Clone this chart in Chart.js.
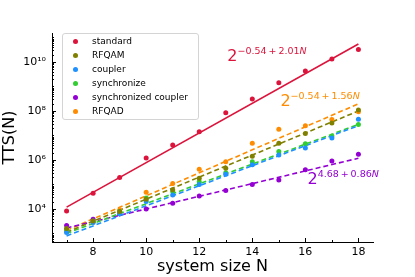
<!DOCTYPE html>
<html>
<head>
<meta charset="utf-8">
<script src="https://cdn.jsdelivr.net/npm/chart.js@4.4.0/dist/chart.umd.min.js"></script>
<style>
    body { margin: 0; background: #fff; }
    #wrap { position: relative; width: 415px; height: 277px; font-family: 'DejaVu Sans', sans-serif; }
    #legend { position: absolute; left: 62px; top: 33px; width: 135px; height: 85px; border: 1px solid #d4d4d4; border-radius: 3px; background: rgba(255,255,255,0.85); font-size: 9px; }
    .item { position: absolute; left: 0; height: 14px; line-height: 14px; width: 135px; }
    .dot { position: absolute; left: 10px; top: 4.5px; width: 5px; height: 5px; border-radius: 50%; }
    .lbl { position: absolute; left: 29px; white-space: nowrap; color: #000; }
    .fit { position: absolute; white-space: nowrap; font-size: 16px; line-height: 16px; }
    .fit span { font-size: 9.5px; position: relative; top: -7px; }
</style>
</head>
<body>
<div id="wrap">
    <canvas id="chart" width="415" height="277"></canvas>
    <div id="legend"></div>
</div>
<script>
// Data
const sizes = [7, 8, 9, 10, 11, 12, 13, 14, 15, 16, 17, 18];
const seriesNames = ['standard', 'RFQAM', 'coupler', 'synchronize', 'synchronized coupler', 'RFQAD'];
const seriesColors = ['#DC143C', '#808000', '#1E90FF', '#32CD32', '#9400D3', '#FF8C00'];

const standard = [8.3e3, 4.4e4, 1.9e5, 1.2e6, 4.1e6, 1.4e7, 8.5e7, 3.1e8, 1.4e9, 4.3e9, 1.3e10, 3.2e10];
const rfqam = [1.6e3, 3.2e3, 7.9e3, 2.5e4, 6.0e4, 1.8e5, 4.6e5, 1.4e6, 4.8e6, 1.2e7, 3.2e7, 1.1e8];
const coupler = [1.1e3, 2.8e3, 6.3e3, 2.0e4, 3.7e4, 1.0e5, 2.6e5, 6.3e5, 1.6e6, 3.1e6, 7.8e6, 4.6e7];
const synchronize = [1.4e3, 3.2e3, 7.9e3, 2.8e4, 5.1e4, 1.3e5, 3.0e5, 8.5e5, 2.2e6, 4.6e6, 9.5e6, 2.8e7];
const syncCoupler = [2.1e3, 3.8e3, 6.3e3, 1.0e4, 1.7e4, 3.4e4, 5.6e4, 1.0e5, 1.5e5, 4.0e5, 9.1e5, 1.7e6];
const rfqad = [1.2e3, 2.9e3, 9.1e3, 4.8e4, 1.1e5, 4.2e5, 8.5e5, 4.8e6, 1.8e7, 2.5e7, 4.5e7, 9.3e7];
const seriesValues = [standard, rfqam, coupler, synchronize, syncCoupler, rfqad];

const fitA = [-0.54, -0.34, 0.12, 0.56, 4.68, -0.54];
const fitB = [2.01, 1.495, 1.359, 1.344, 0.86, 1.56];
const fitLabelSeries = [0, 5, 4];

const xTicks = [8, 10, 12, 14, 16, 18];
const yTickPowers = [4, 6, 8, 10];

const supDigits = '⁰¹²³⁴⁵⁶⁷⁸⁹';
function sup(n) {
    return String(n).split('').map(c => supDigits[+c] || c).join('');
}

const datasets = [];
seriesValues.forEach(function(vals, i) {
    datasets.push({
        label: seriesNames[i],
        data: sizes.map((n, j) => ({ x: n, y: vals[j] })),
        backgroundColor: seriesColors[i],
        borderColor: seriesColors[i],
        pointRadius: 2.5,
        pointBorderWidth: 0,
        showLine: false,
        order: 1
    });
});
seriesValues.forEach(function(vals, i) {
    const n0 = sizes[0], n1 = sizes[sizes.length - 1];
    datasets.push({
        label: seriesNames[i] + ' fit',
        data: [{ x: n0, y: Math.pow(2, fitA[i] + fitB[i] * n0) }, { x: n1, y: Math.pow(2, fitA[i] + fitB[i] * n1) }],
        borderColor: seriesColors[i],
        borderWidth: 1.6,
        borderDash: i === 0 ? [] : [5, 3],
        pointRadius: 0,
        showLine: true,
        fill: false,
        order: 2
    });
});

// matplotlib-like inward ticks
const inwardTicks = {
    id: 'inwardTicks',
    afterDraw(chart) {
        const ctx = chart.ctx;
        const xs = chart.scales.x, ys = chart.scales.y;
        const area = chart.chartArea;
        ctx.save();
        ctx.strokeStyle = '#000';
        ctx.lineWidth = 1;
        ctx.beginPath();
        for (let n = Math.ceil(xs.min); n <= xs.max; n++) {
            const px = Math.round(xs.getPixelForValue(n)) + 0.5;
            const len = xTicks.includes(n) ? 4 : 2;
            ctx.moveTo(px, area.bottom);
            ctx.lineTo(px, area.bottom - len);
        }
        const d0 = Math.floor(Math.log10(ys.min)), d1 = Math.ceil(Math.log10(ys.max));
        for (let d = d0; d <= d1; d++) {
            for (let k = 1; k <= 9; k++) {
                const v = k * Math.pow(10, d);
                if (v < ys.min || v > ys.max) continue;
                const py = Math.round(ys.getPixelForValue(v)) + 0.5;
                const len = (k === 1 && yTickPowers.includes(d)) ? 4 : 2;
                ctx.moveTo(area.left, py);
                ctx.lineTo(area.left + len, py);
            }
        }
        ctx.stroke();
        ctx.restore();
    }
};

Chart.defaults.font.family = "'DejaVu Sans', sans-serif";
Chart.defaults.color = '#000';

const chart = new Chart(document.getElementById('chart'), {
    type: 'scatter',
    data: { datasets: datasets },
    options: {
        responsive: false,
        animation: false,
        layout: { padding: { top: 33, right: 42, left: 0, bottom: 0 } },
        plugins: { legend: { display: false }, tooltip: { enabled: false } },
        scales: {
            x: {
                type: 'linear',
                min: 6.45,
                max: 18.55,
                afterBuildTicks: s => { s.ticks = xTicks.map(v => ({ value: v })); },
                afterFit: s => { s.height = 35; },
                ticks: { font: { size: 11 }, color: '#000', padding: 4 },
                grid: { drawOnChartArea: false, drawTicks: false },
                border: { color: '#000', width: 1 },
                title: { display: true, text: 'system size N', font: { size: 16 }, color: '#000', padding: { top: 0, bottom: 1 } }
            },
            y: {
                type: 'logarithmic',
                min: Math.pow(10, 2.65),
                max: Math.pow(10, 11.18),
                afterBuildTicks: s => { s.ticks = yTickPowers.map(p => ({ value: Math.pow(10, p) })); },
                afterFit: s => { s.width = 52; },
                ticks: {
                    font: { size: 11 }, color: '#000', padding: 6,
                    callback: v => '10' + sup(Math.round(Math.log10(v)))
                },
                grid: { drawOnChartArea: false, drawTicks: false },
                border: { color: '#000', width: 1 },
                title: { display: true, text: 'TTS(N)', font: { size: 16 }, color: '#000', padding: 0 }
            }
        }
    },
    plugins: [inwardTicks]
});

// Legend box in the upper left, like matplotlib's
const legend = document.getElementById('legend');
seriesNames.forEach(function(name, i) {
    const item = document.createElement('div');
    item.className = 'item';
    item.style.top = (i * 14) + 'px';
    item.innerHTML = '<div class="dot" style="background:' + seriesColors[i] + '"></div><div class="lbl">' + name + '</div>';
    legend.appendChild(item);
});

// Fit formulas next to their lines
const labelSpots = [{ n: 13.06, logY: 10.0 }, { n: 15.06, logY: 8.2 }, { n: 16.08, logY: 4.98 }];
function fmt(v) {
    return (v < 0 ? '\u2212' : '') + Math.abs(v).toFixed(2);
}
fitLabelSeries.forEach(function(s, i) {
    const spot = labelSpots[i];
    const div = document.createElement('div');
    div.className = 'fit';
    div.style.color = seriesColors[s];
    div.style.left = chart.scales.x.getPixelForValue(spot.n) + 'px';
    div.style.top = (chart.scales.y.getPixelForValue(Math.pow(10, spot.logY)) - 13.5) + 'px';
    div.innerHTML = '2<span>' + fmt(fitA[s]) + '\u2009+\u2009' + fmt(fitB[s]) + '<i>N</i></span>';
    document.getElementById('wrap').appendChild(div);
});
</script>
</body>
</html>
